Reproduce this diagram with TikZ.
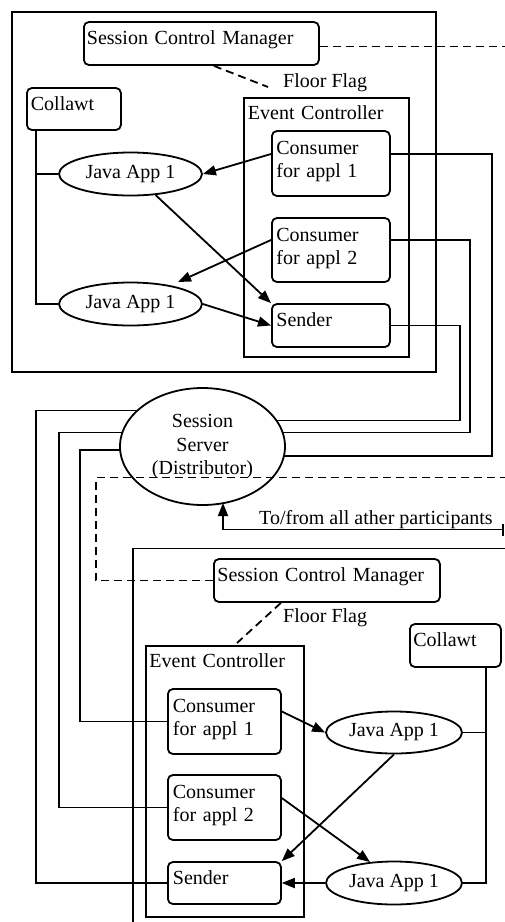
\documentclass[tikz,border=0pt]{standalone}
\usepackage{fontspec}
\setmainfont{Liberation Serif}
\usetikzlibrary{arrows.meta,shapes.geometric,calc}
\begin{document}
\begin{tikzpicture}[x=1pt,y=-1pt,
  every node/.style={font=\fontsize{20}{23.5}\selectfont},
  box/.style={draw, line width=1.8pt, rounded corners=5pt, anchor=base west, inner ysep=0pt, align=left},
  sqbox/.style={box, sharp corners},
  oval/.style={draw, line width=1.8pt, ellipse, inner sep=0pt, align=center},
  conn/.style={line width=1.8pt},
  arr/.style={conn, -{Triangle[length=13pt,width=10pt]}},
  dsh/.style={conn, dash pattern=on 8pt off 5pt},
  lbl/.style={anchor=base west, inner sep=0pt}
]
\useasboundingbox (0,0) rectangle (505,922);
\clip (0,0) rectangle (505,922);

% ---------- top participant ----------
\draw[conn] (12,12) rectangle (436,372);
\node[box, inner xsep=3pt, text width=229pt, text height=22pt, text depth=21pt] (SCMa) at (83,44) {Session Control Manager};
\node[box, inner xsep=4pt, text width=86pt, text height=22pt, text depth=20pt] (COLa) at (26,110) {Collawt};
\node[sqbox, inner xsep=4pt, text width=157pt, text height=21pt, text depth=238pt] (ECa) at (243,119) {Event Controller};
\node[box, inner xsep=4.5pt, text width=109pt, text height=23pt, text depth=42pt] (CAa) at (271,154) {Consumer\\for appl 1};
\node[box, inner xsep=4.5pt, text width=109pt, text height=23pt, text depth=41pt] (CBa) at (271,241) {Consumer\\for appl 2};
\node[box, inner xsep=4.5pt, text width=109pt, text height=22pt, text depth=21pt] (SNa) at (271,326) {Sender};
\node[oval, minimum width=143pt, minimum height=43pt] (JAa) at (130.5,174) {Java App 1};
\node[oval, minimum width=143pt, minimum height=43pt] (JBa) at (130.5,304) {Java App 1};
\node[lbl] (FFa) at (283,87) {Floor Flag};
\coordinate (ffa) at (268,87);

% ---------- server ----------
\node[oval, minimum width=165pt, minimum height=117pt] (SS) at (202.5,446.5) {Session\\Server\\(Distributor)};
\node[lbl] (TF) at (259,524) {To/from all ather participants};
\coordinate (TFend) at (504,529.5);

% ---------- bottom participant ----------
\draw[conn] (520,548.5) -| (133,930);
\node[box, inner xsep=3.5pt, text width=219pt, text height=22pt, text depth=21pt] (SCMb) at (213,581) {Session Control Manager};
\node[box, inner xsep=3.5pt, text width=84pt, text height=22pt, text depth=21pt] (COLb) at (409,646) {Collawt};
\node[sqbox, inner xsep=3.5pt, text width=151pt, text height=21pt, text depth=250pt] (ECb) at (145,667) {Event Controller};
\node[box, inner xsep=5pt, text width=103pt, text height=23pt, text depth=42pt] (CAb) at (167,712) {Consumer\\for appl 1};
\node[box, inner xsep=5pt, text width=103pt, text height=23pt, text depth=42pt] (CBb) at (167,798) {Consumer\\for appl 2};
\node[box, inner xsep=5pt, text width=103pt, text height=22pt, text depth=20pt] (SNb) at (167,884) {Sender};
\node[oval, minimum width=136pt, minimum height=42pt] (JAb) at (394,732.5) {Java App 1};
\node[oval, minimum width=136pt, minimum height=43pt] (JBb) at (394,883) {Java App 1};
\node[lbl] (FFb) at (283,622.5) {Floor Flag};
\coordinate (ffb) at (237,643);

% ---------- top connectors ----------
\draw[conn] ([xshift=10pt]COLa.south west) coordinate (busA) |- (JBa.west);
\draw[conn] (JAa.west) -- (JAa.west -| busA);
\draw[arr] ([yshift=9.5pt]CAa.west) -- (JAa.east);
\draw[arr] (JAa.-40) -- (SNa.north west);
\draw[arr] ([yshift=10pt]CBa.west) -- ($(JBa.center)+(47.5,-22)$);
\draw[arr] (JBa.east) -- (SNa.west);
\draw[dsh] ([yshift=-3pt]SCMa.east) -- ++(200,0);
\draw[dsh] ([xshift=12.5pt]SCMa.south) -- (ffa);

% ---------- right side to server ----------
\draw[conn] ([yshift=9.5pt]CAa.east) -| ($(SS.center)+(289.5,9.5)$) -- ($(SS.center)+(81.5,9.5)$);
\draw[conn] ([yshift=10pt]CBa.east) -| ($(SS.center)+(267.5,-14)$) -- ($(SS.center)+(80.5,-14)$);
\draw[conn] (SNa.east) -| ($(SS.center)+(257.5,-26)$) -- ($(SS.center)+(74,-26)$);

% ---------- left side from server ----------
\draw[conn] ($(SS.center)+(-65,-36)$) -| ([xshift=-131pt]SNb.west) -- (SNb.west);
\draw[conn] ($(SS.center)+(-81,-14)$) -| ([xshift=-108pt]CBb.west) -- (CBb.west);
\draw[conn] ($(SS.center)+(-82,3.5)$) -| ([xshift=-87pt]CAb.west) -- (CAb.west);

% ---------- dashed control line & other participants ----------
\draw[dsh] (SCMb.west) -| ($(SS.center)+(-106.5,31)$) -- ++(420,0);
\draw[dsh] ([xshift=-46pt]SCMb.south) -- (ffb);
\draw[conn, {Triangle[length=13pt,width=10pt]}-{Bar[width=12pt]}] ($(SS.center)+(20.5,56.5)$) |- (TFend);

% ---------- bottom connectors ----------
\draw[conn] ([xshift=-16pt]COLb.south east) coordinate (busB) |- (JBb.east);
\draw[conn] (JAb.east) -- (JAb.east -| busB);
\draw[arr] ([yshift=10pt]CAb.east) -- (JAb.west);
\draw[arr] (JAb.south) -- (SNb.north east);
\draw[arr] ([yshift=9.5pt]CBb.east) -- ($(JBb.center)+(-24,-21)$);
\draw[arr] (JBb.west) -- (SNb.east);
\end{tikzpicture}
\end{document}
